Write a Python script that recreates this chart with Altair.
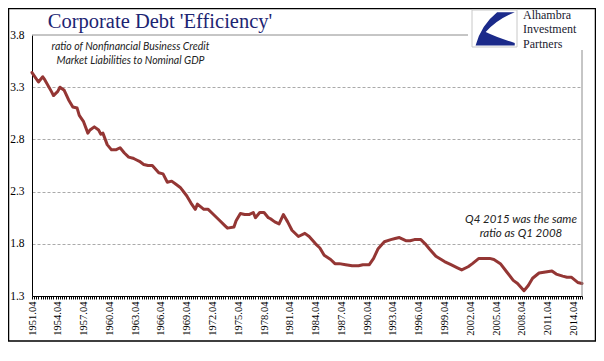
import altair as alt
import pandas as pd

# ---- data ----
years = [
    1951.75, 1952.5, 1953.0, 1953.25, 1954.0, 1954.25, 1954.75, 1955.0, 1955.5, 1956.0,
    1956.5, 1957.0, 1957.25, 1957.75, 1958.25, 1958.5, 1959.0, 1959.5, 1959.75, 1960.0,
    1960.5, 1961.0, 1961.5, 1962.0, 1962.5, 1963.0, 1963.5, 1963.75, 1964.25, 1964.75,
    1965.25, 1965.75, 1966.5, 1967.0, 1967.5, 1968.0, 1968.5, 1969.0, 1969.75, 1970.25,
    1970.75, 1971.0, 1971.75, 1972.25, 1972.75, 1973.5, 1974.25, 1974.5, 1975.25, 1975.5,
    1976.0, 1976.5, 1977.0, 1977.5, 1977.75, 1978.25, 1978.75, 1979.25, 1979.5, 1980.0,
    1980.5, 1981.0, 1981.5, 1982.0, 1982.75, 1983.5, 1984.0, 1984.75, 1985.25, 1985.75,
    1986.5, 1987.0, 1987.5, 1988.25, 1989.0, 1989.75, 1990.25, 1991.0, 1991.5, 1992.0,
    1992.75, 1993.5, 1994.0, 1994.5, 1995.25, 1995.75, 1996.25, 1997.0, 1997.5, 1998.0,
    1998.75, 1999.75, 2000.5, 2001.25, 2001.75, 2002.5, 2003.0, 2003.75, 2004.5, 2005.0,
    2005.5, 2006.25, 2007.0, 2007.75, 2008.25, 2009.0, 2009.5, 2010.0, 2010.75, 2011.5,
    2012.25, 2012.75, 2013.5, 2014.0, 2014.5, 2015.25, 2015.75,
]
ratio = [
    3.44, 3.35, 3.40, 3.37, 3.26, 3.22, 3.26, 3.30, 3.27, 3.18,
    3.11, 3.10, 3.03, 2.97, 2.86, 2.89, 2.92, 2.89, 2.85, 2.86,
    2.75, 2.70, 2.70, 2.72, 2.67, 2.63, 2.62, 2.61, 2.59, 2.56,
    2.55, 2.55, 2.48, 2.47, 2.39, 2.40, 2.37, 2.34, 2.26, 2.19,
    2.13, 2.18, 2.13, 2.13, 2.09, 2.03, 1.97, 1.95, 1.96, 2.02,
    2.09, 2.08, 2.08, 2.10, 2.05, 2.10, 2.10, 2.05, 2.04, 2.01,
    1.99, 2.08, 2.01, 1.93, 1.87, 1.90, 1.87, 1.80, 1.76, 1.69,
    1.65, 1.61, 1.61, 1.60, 1.59, 1.59, 1.60, 1.60, 1.66, 1.75,
    1.82, 1.84, 1.85, 1.86, 1.83, 1.83, 1.84, 1.84, 1.80, 1.75,
    1.68, 1.63, 1.60, 1.57, 1.55, 1.58, 1.61, 1.66, 1.66, 1.66,
    1.65, 1.61, 1.53, 1.45, 1.42, 1.35, 1.40, 1.47, 1.52, 1.53,
    1.54, 1.51, 1.49, 1.48, 1.48, 1.43, 1.42,
]
y_ticks = [1.3, 1.8, 2.3, 2.8, 3.3, 3.8]
label_years = list(range(1951, 2015, 3))  # labelled as "YYYY.04"
quarter_ticks = [1951.75 + 0.25 * i for i in range(257)]

title_text = "Corporate Debt 'Efficiency'"
subtitle_lines = ["ratio of Nonfinancial Business Credit", "Market Liabilities to Nominal GDP"]
note_lines = ["Q4 2015 was the same", "ratio as Q1 2008"]
logo_lines = ["Alhambra", "Investment", "Partners"]

df = pd.DataFrame({"year": years, "ratio": ratio})
one = pd.DataFrame({"k": [0]})

W, H = 550, 261

label_expr = "(datum.value - 1951.75) % 3 == 0 ? floor(datum.value) + '.04' : ''"

x_enc = alt.X(
    "year:Q",
    scale=alt.Scale(domain=[1951.75, 2015.75], nice=False, zero=False),
    axis=alt.Axis(
        values=quarter_ticks, labelExpr=label_expr, labelAngle=270, labelOverlap=False,
        labelFlush=False, tickSize=3, tickColor="black", domainColor="black", grid=False,
        labelFont="Liberation Serif", labelFontSize=10.5, labelColor="black",
        labelPadding=2, title=None,
    ),
)
y_enc = alt.Y(
    "ratio:Q",
    scale=alt.Scale(domain=[1.3, 3.8], nice=False, zero=False),
    axis=alt.Axis(
        values=y_ticks, format=".1f", ticks=False, domainColor="black",
        grid=True, gridDash=[3, 2], gridColor="#aaaaaa",
        gridOpacity={"condition": {"test": "datum.value > 3.7 || datum.value < 1.4", "value": 0}, "value": 1},
        labelFont="Liberation Serif", labelFontSize=11.5, labelColor="black",
        labelPadding=8, title=None,
    ),
)

line = alt.Chart(df).mark_line(
    color="#943634", strokeWidth=3, strokeJoin="round", strokeCap="round"
).encode(x=x_enc, y=y_enc)

frame = alt.Chart(one).mark_rect(fillOpacity=0, stroke="black", strokeWidth=1.5).encode(
    x=alt.value(-23.5), x2=alt.value(563.5), y=alt.value(-26.5), y2=alt.value(306)
)
top_rule = alt.Chart(one).mark_rule(color="#8c8c8c", strokeWidth=1).encode(
    x=alt.value(0), x2=alt.value(436), y=alt.value(0)
)
right_rule = alt.Chart(one).mark_rule(color="#8c8c8c", strokeWidth=1).encode(
    x=alt.value(W), y=alt.value(15), y2=alt.value(H)
)

title = alt.Chart(one).mark_text(
    text=title_text, font="Liberation Serif", fontSize=20.5, color="#1c2472",
    align="center", baseline="alphabetic",
).encode(x=alt.value(128), y=alt.value(-7))

def txt(s, x, y, size, font="Lato", style="italic", color="#222222", align="center", lh=None):
    kw = {} if lh is None else {"lineHeight": lh}
    return alt.Chart(one).mark_text(
        text=s, font=font, fontSize=size, fontStyle=style, color=color,
        align=align, baseline="alphabetic", **kw,
    ).encode(x=alt.value(x), y=alt.value(y))

sub = txt(subtitle_lines, 98.5, 15, 10.5, lh=14)
note = txt(note_lines, 489, 188, 11.5, lh=14)

logo_box = alt.Chart(one).mark_rect(fill="white", stroke="#c8c8c8", strokeWidth=1).encode(
    x=alt.value(440), x2=alt.value(485), y=alt.value(-25), y2=alt.value(12)
)
logo_path = ("M0.12,-0.738 L0.92,-0.738 Q0.1,-0.41 -0.4,0.164 Q0.1,0.41 0.92,0.656 "
             "L0.92,0.77 L-0.86,0.77 Q-0.6,-0.164 0.12,-0.738 Z")
logo_mark = alt.Chart(one).mark_point(
    shape=logo_path, filled=True, size=1936, color="#1b2a8a", opacity=1, strokeWidth=0
).encode(x=alt.value(462.5), y=alt.value(-6.5))
logo_t = txt(logo_lines, 491, -16.5, 12, font="Liberation Serif", style="normal",
             color="#1a1a30", align="left", lh=14.6)

chart = alt.layer(
    frame, line, top_rule, right_rule, title, sub, note,
    logo_box, logo_mark, logo_t,
).properties(
    width=W, height=H,
    padding={"left": 24, "top": 27, "right": 14, "bottom": 49},
    autosize=alt.AutoSizeParams(type="none"),
    background="white",
).configure_view(strokeWidth=0)

chart.save("out.html", embed_options={"renderer": "svg", "actions": False})
